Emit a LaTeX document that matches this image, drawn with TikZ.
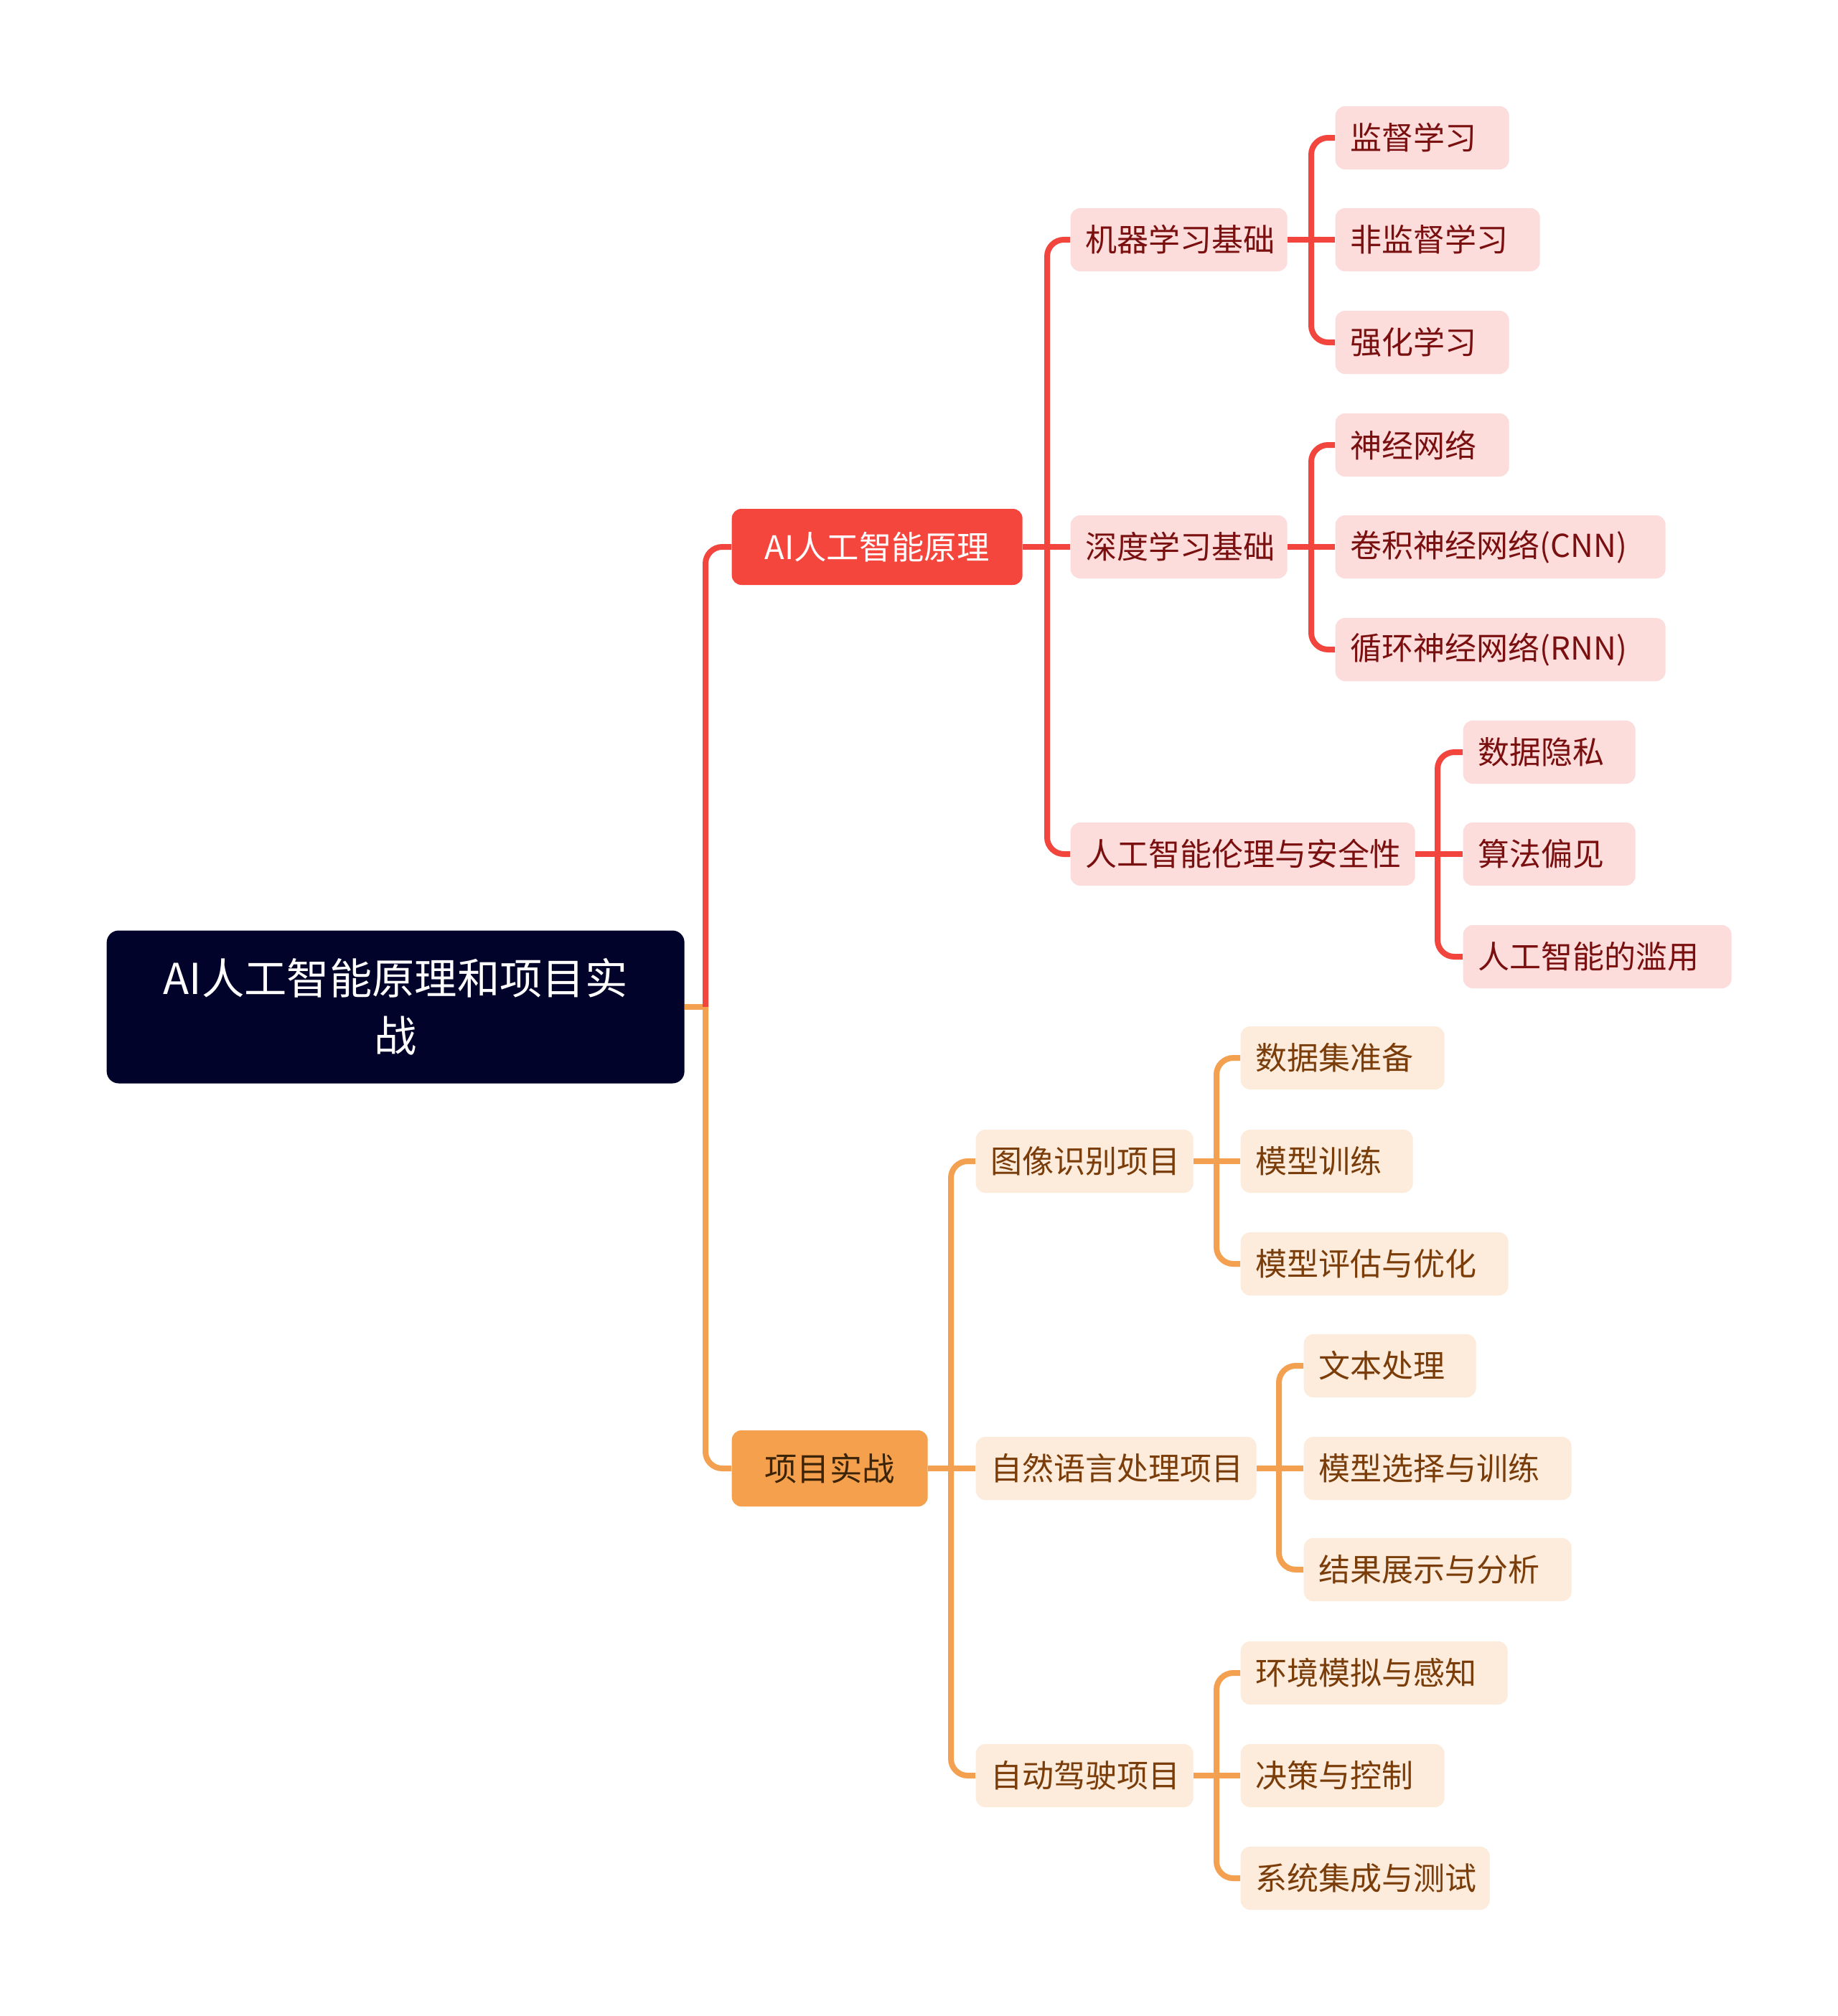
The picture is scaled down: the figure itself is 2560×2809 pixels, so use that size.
\documentclass[tikz,border=0pt]{standalone}
\usepackage{fontspec}
\setmainfont{Noto Sans CJK SC}
\definecolor{rootF}{HTML}{02032A}
\definecolor{redL}{HTML}{F2453D}
\definecolor{redF}{HTML}{F5463E}
\definecolor{pinkF}{HTML}{FDDCDC}
\definecolor{redT}{HTML}{7A0F0F}
\definecolor{orgL}{HTML}{F3A150}
\definecolor{orgF}{HTML}{F5A04C}
\definecolor{orgT}{HTML}{3C2408}
\definecolor{peachF}{HTML}{FDEBDB}
\definecolor{brT}{HTML}{7A3D0A}
\begin{document}
\begin{tikzpicture}[x=0.3pt,y=-0.3pt,
  box/.style={rounded corners=4pt, inner ysep=0pt, inner xsep=6.3pt, minimum height=26.4pt,
    anchor=west, align=left, font=\fontsize{13.2}{16}\selectfont},
  rsub/.style={box, fill=pinkF, text=redT},
  osub/.style={box, fill=peachF, text=brT},
  lvone/.style={rounded corners=4pt, inner sep=0pt, minimum height=31.8pt, anchor=west,
    font=\fontsize{13.6}{16}\selectfont},
  rline/.style={draw=redL, line width=2.4pt, rounded corners=7pt},
  oline/.style={draw=orgL, line width=2.4pt, rounded corners=7pt}
]
\useasboundingbox[fill=white] (0,0) rectangle (2560,2809);

% root
\node[fill=rootF, text=white, rounded corners=5pt, inner sep=0pt, minimum width=241.5pt,
  minimum height=63.9pt, anchor=west, align=center, font=\fontsize{17.8}{24}\selectfont]
  (root) at (148,1403) {AI人工智能原理和项目实\\战};

% level 1
\node[lvone, fill=redF, text=white, minimum width=121.5pt] (ai) at (1019,762) {AI人工智能原理};
\node[lvone, fill=orgF, text=orgT, minimum width=81.9pt] (proj) at (1019,2046) {项目实战};

% level 2 red
\node[rsub, text width=78pt] (ml) at (1491,334) {机器学习基础};
\node[rsub, text width=78pt] (dl) at (1491,762) {深度学习基础};
\node[rsub, text width=131.4pt] (eth) at (1491,1190) {人工智能伦理与安全性};

% level 3 red
\node[rsub, text width=60pt] (sup) at (1860,192) {监督学习};
\node[rsub, text width=72.9pt] (unsup) at (1860,334) {非监督学习};
\node[rsub, text width=60pt] (rl) at (1860,477) {强化学习};
\node[rsub, text width=60pt] (nn) at (1860,620) {神经网络};
\node[rsub, text width=125.4pt] (cnn) at (1860,762) {卷积神经网络(CNN)};
\node[rsub, text width=125.4pt] (rnn) at (1860,905) {循环神经网络(RNN)};
\node[rsub, text width=59.4pt] (priv) at (2038,1048) {数据隐私};
\node[rsub, text width=59.4pt] (bias) at (2038,1190) {算法偏见};
\node[rsub, text width=99.6pt] (abuse) at (2038,1333) {人工智能的滥用};

% level 2 orange
\node[osub, text width=78.3pt] (img) at (1359,1618) {图像识别项目};
\node[osub, text width=104.7pt] (nlp) at (1359,2046) {自然语言处理项目};
\node[osub, text width=78.3pt] (ad) at (1359,2474) {自动驾驶项目};

% level 3 orange
\node[osub, text width=72.6pt] (data) at (1728,1474) {数据集准备};
\node[osub, text width=59.4pt] (train) at (1728,1618) {模型训练};
\node[osub, text width=99.3pt] (eval) at (1728,1761) {模型评估与优化};
\node[osub, text width=59.4pt] (text) at (1816,1903) {文本处理};
\node[osub, text width=99.3pt] (sel) at (1816,2046) {模型选择与训练};
\node[osub, text width=99.3pt] (res) at (1816,2187) {结果展示与分析};
\node[osub, text width=99pt] (env) at (1728,2331) {环境模拟与感知};
\node[osub, text width=72.6pt] (dec) at (1728,2474) {决策与控制};
\node[osub, text width=91.5pt] (sys) at (1728,2617) {系统集成与测试};

% junctions
\coordinate (j0) at (983,1403);
\coordinate (j1) at (1459,762);
\coordinate (j2) at (1827,334);
\coordinate (j3) at (1827,762);
\coordinate (j4) at (2003,1190);
\coordinate (j5) at (1325,2046);
\coordinate (j6) at (1695,1618);
\coordinate (j7) at (1782,2046);
\coordinate (j8) at (1695,2474);

% connectors
\draw[oline] (root.east) -- (j0);
\draw[rline] (j0) |- (ai.west);
\draw[oline] (j0) |- (proj.west);

\draw[rline] (ai.east) -- (dl.west);
\draw[rline] (j1) |- (ml.west);
\draw[rline] (j1) |- (eth.west);

\draw[rline] (ml.east) -- (unsup.west);
\draw[rline] (j2) |- (sup.west);
\draw[rline] (j2) |- (rl.west);

\draw[rline] (dl.east) -- (cnn.west);
\draw[rline] (j3) |- (nn.west);
\draw[rline] (j3) |- (rnn.west);

\draw[rline] (eth.east) -- (bias.west);
\draw[rline] (j4) |- (priv.west);
\draw[rline] (j4) |- (abuse.west);

\draw[oline] (proj.east) -- (nlp.west);
\draw[oline] (j5) |- (img.west);
\draw[oline] (j5) |- (ad.west);

\draw[oline] (img.east) -- (train.west);
\draw[oline] (j6) |- (data.west);
\draw[oline] (j6) |- (eval.west);

\draw[oline] (nlp.east) -- (sel.west);
\draw[oline] (j7) |- (text.west);
\draw[oline] (j7) |- (res.west);

\draw[oline] (ad.east) -- (dec.west);
\draw[oline] (j8) |- (env.west);
\draw[oline] (j8) |- (sys.west);
\end{tikzpicture}
\end{document}
